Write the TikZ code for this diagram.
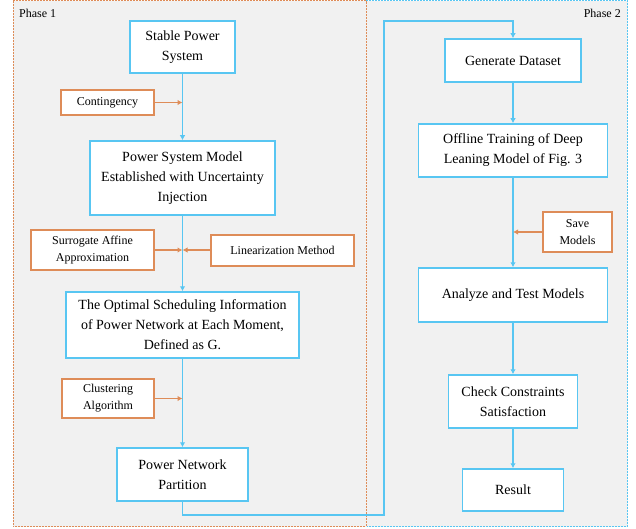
\documentclass[tikz,border=0pt]{standalone}
\usepackage{fontspec}
\setmainfont{Liberation Serif}
\usetikzlibrary{arrows.meta}
\definecolor{flowblue}{RGB}{88,198,242}
\definecolor{sideorange}{RGB}{222,140,88}
\definecolor{panelgray}{RGB}{241,241,241}
\tikzset{
  mainbox/.style={draw=flowblue, line width=1.5pt, fill=white, align=center,
    inner sep=0pt, font=\fontsize{14}{20}\selectfont},
  sidebox/.style={draw=sideorange, line width=1.5pt, fill=white, align=center,
    inner sep=0pt, font=\fontsize{12}{17}\selectfont},
  flow/.style={draw=flowblue, line width=1.3pt, -{Latex[length=5pt,width=5.5pt]}},
  feed/.style={draw=sideorange, line width=1.3pt, -{Latex[length=5pt,width=5.5pt]}},
  phaselabel/.style={font=\fontsize{12}{14}\selectfont, inner sep=0pt}
}
\begin{document}
\begin{tikzpicture}[x=1pt, y=-1pt]
\useasboundingbox (0,0) rectangle (636,529);
% panels
\fill[panelgray] (13,0.8) rectangle (627.5,526.5);
\draw[sideorange, line width=1pt, dash pattern=on 2pt off 1pt] (13,0.8) -- (13,526.5) -- (366,526.5) -- (366,0.8) -- cycle;
\draw[flowblue, line width=1pt, dash pattern=on 2pt off 1pt] (366,0.8) -- (627.5,0.8) -- (627.5,526.5) -- (366.5,526.5);
\node[phaselabel, anchor=west] (ph1) at (19,13) {Phase 1};
\node[phaselabel, anchor=east] (ph2) at (621,13) {Phase 2};

% phase 1 nodes
\node[mainbox, minimum width=105pt, minimum height=52pt] (stable) at (182.5,47) {Stable Power\\System};
\node[sidebox, minimum width=93pt, minimum height=25pt] (cont) at (107.5,102.5) {Contingency};
\node[mainbox, minimum width=185pt, minimum height=74pt] (psm) at (182.5,178) {Power System Model\\Established with Uncertainty\\Injection};
\node[sidebox, minimum width=123pt, minimum height=40pt] (surr) at (92.5,250) {Surrogate Affine\\Approximation};
\node[sidebox, minimum width=143pt, minimum height=31pt] (lin) at (282.5,250.5) {Linearization Method};
\node[mainbox, minimum width=233pt, minimum height=66pt] (opt) at (182.5,325) {The Optimal Scheduling Information\\of Power Network at Each Moment,\\Defined as G.};
\node[sidebox, minimum width=92pt, minimum height=39pt] (clust) at (108,398.5) {Clustering\\Algorithm};
\node[mainbox, minimum width=131pt, minimum height=53pt] (part) at (182.5,474.5) {Power Network\\Partition};

% phase 2 nodes
\node[mainbox, minimum width=136pt, minimum height=43pt] (gen) at (513,60.5) {Generate Dataset};
\node[mainbox, minimum width=189pt, minimum height=53pt] (off) at (513,150.5) {Offline Training of Deep\\Leaning Model of Fig. 3};
\node[sidebox, minimum width=69pt, minimum height=40pt] (save) at (577.5,232) {Save\\Models};
\node[mainbox, minimum width=189pt, minimum height=54pt] (ana) at (513,295) {Analyze and Test Models};
\node[mainbox, minimum width=129pt, minimum height=53pt] (chk) at (513,401.5) {Check Constraints\\Satisfaction};
\node[mainbox, minimum width=101pt, minimum height=42pt] (res) at (513,490) {Result};

% junction points on the trunks
\coordinate (j1) at (182.5,102.5);
\coordinate (j2) at (182.5,250);
\coordinate (j3) at (182.5,398.5);
\coordinate (j4) at (513,232);

% phase 1 flow
\draw[flow] (stable) -- (psm);
\draw[flow] (psm) -- (opt);
\draw[flow] (opt) -- (part);
\draw[feed] (cont.east) -- (j1);
\draw[feed] (surr.east |- j2) -- (j2);
\draw[feed] (lin.west |- j2) -- (j2);
\draw[feed] (clust.east) -- (j3);

% link between the phases
\draw[flow] (part.south) -- (182.5,515) -- (384,515) -- (384,21) -- (513,21) -- (gen.north);

% phase 2 flow
\draw[flow] (gen) -- (off);
\draw[flow] (off) -- (ana);
\draw[flow] (ana) -- (chk);
\draw[flow] (chk) -- (res);
\draw[feed] (save.west) -- (j4);
\end{tikzpicture}
\end{document}
